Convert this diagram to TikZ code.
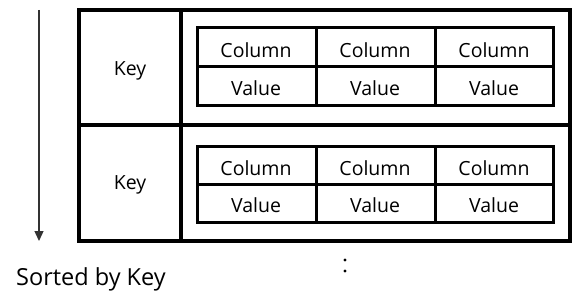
\documentclass[tikz,border=0pt]{standalone}
\usepackage{fontspec}
\setmainfont{Open Sans}
\usetikzlibrary{arrows.meta}
\begin{document}
\begin{tikzpicture}[x=1pt,y=-1pt,
  outer/.style={line width=3.5pt},
  inner/.style={line width=3pt},
  lbl/.style={font=\fontsize{19.5}{22}\selectfont, inner sep=0pt},
  big/.style={font=\fontsize{23.5}{26}\selectfont, inner sep=0pt, anchor=west}]
\useasboundingbox (0,0) rectangle (580,296);
% outer frame
\draw[outer] (79,10) rectangle (570,241);
\draw[outer] (181,10) -- (181,241);
\draw[outer] (79,125) -- (570,125);
\node[lbl] (k1) at (130,71) {Key};
\node[lbl] (k2) at (130,185) {Key};
% inner tables
\foreach \t/\ya/\ym/\yb in {a/28/67/106, b/147/185/222}{
  \draw[inner] (197,\ya) rectangle (553,\yb);
  \draw[inner] (197,\ym) -- (553,\ym);
  \draw[inner] (316,\ya) -- (316,\yb);
  \draw[inner] (435,\ya) -- (435,\yb);
}
\foreach \x/\n in {256/1,375/2,494/3}{
  \node[lbl] (ca\n) at (\x,50) {Column};
  \node[lbl] (va\n) at (\x,88) {Value};
  \node[lbl] (cb\n) at (\x,168) {Column};
  \node[lbl] (vb\n) at (\x,205) {Value};
}
% arrow
\coordinate (s) at (39,10);
\coordinate (e) at (39,241);
\draw[line width=1.3pt, draw=black!80, -{Triangle[length=10pt,width=9pt]}] (s) -- (e);
\node[big] (sk) at (16,279) {Sorted by Key};
\fill (345,260) circle (1.6);
\fill (345,271) circle (1.6);
\end{tikzpicture}
\end{document}
